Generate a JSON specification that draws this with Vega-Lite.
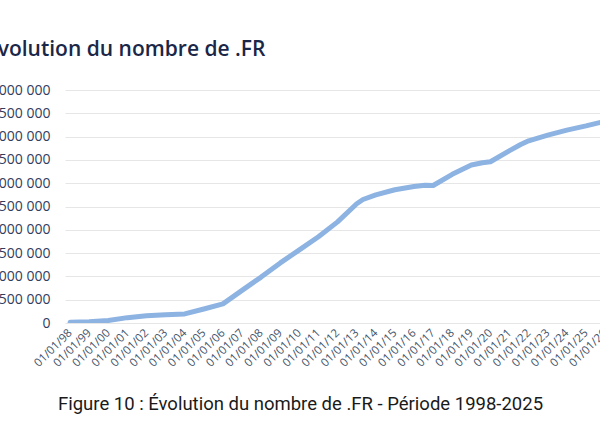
{
  "$schema": "https://vega.github.io/schema/vega-lite/v6.json",
  "autosize": {"type": "none"},
  "width": 548,
  "height": 233,
  "padding": {"left": 65, "top": 90, "right": -13, "bottom": 110},
  "background": "white",
  "title": {
    "text": "Évolution du nombre de .FR",
    "anchor": "start",
    "frame": "group",
    "dx": -79,
    "dy": 20,
    "offset": 26,
    "baseline": "alphabetic",
    "font": "Open Sans",
    "fontSize": 21,
    "fontWeight": 600,
    "color": "#1a2748"
  },
  "config": {
    "view": {"stroke": null},
    "locale": {"number": {"decimal": ",", "thousands": "\u00a0", "grouping": [3], "currency": ["", "\u00a0€"]}}
  },
  "data": {
    "values": [
      {"date": "1998-01-01", "count": 15000},
      {"date": "1999-01-01", "count": 25000},
      {"date": "2000-01-01", "count": 55000},
      {"date": "2001-01-01", "count": 115000},
      {"date": "2002-01-01", "count": 155000},
      {"date": "2003-01-01", "count": 178000},
      {"date": "2004-01-01", "count": 195000},
      {"date": "2005-01-01", "count": 300000},
      {"date": "2006-01-01", "count": 410000},
      {"date": "2007-01-01", "count": 700000},
      {"date": "2008-01-01", "count": 985000},
      {"date": "2009-01-01", "count": 1290000},
      {"date": "2010-01-01", "count": 1570000},
      {"date": "2011-01-01", "count": 1850000},
      {"date": "2012-01-01", "count": 2170000},
      {"date": "2013-01-01", "count": 2560000},
      {"date": "2013-05-01", "count": 2650000},
      {"date": "2014-01-01", "count": 2750000},
      {"date": "2015-01-01", "count": 2860000},
      {"date": "2016-01-01", "count": 2930000},
      {"date": "2016-08-01", "count": 2955000},
      {"date": "2017-01-01", "count": 2950000},
      {"date": "2018-01-01", "count": 3190000},
      {"date": "2019-01-01", "count": 3390000},
      {"date": "2019-08-01", "count": 3440000},
      {"date": "2020-01-01", "count": 3460000},
      {"date": "2021-01-01", "count": 3700000},
      {"date": "2021-08-01", "count": 3830000},
      {"date": "2022-01-01", "count": 3910000},
      {"date": "2023-01-01", "count": 4030000},
      {"date": "2024-01-01", "count": 4140000},
      {"date": "2025-01-01", "count": 4230000},
      {"date": "2026-01-01", "count": 4330000}
    ]
  },
  "mark": {"type": "line", "color": "#8db3e2", "strokeWidth": 5, "strokeJoin": "round", "strokeCap": "round", "clip": true},
  "encoding": {
    "x": {
      "field": "date",
      "type": "temporal",
      "scale": {
        "type": "utc",
        "domain": [
          {"year": 1997, "month": 9, "date": 26, "utc": true},
          {"year": 2026, "month": 6, "date": 1, "utc": true}
        ]
      },
      "axis": {
        "labelExpr": "utcFormat(datum.value, '%d/%m/%y')",
        "tickCount": {"interval": "year", "step": 1},
        "labelAngle": -45,
        "labelAlign": "right",
        "labelBaseline": "middle",
        "labelPadding": 8,
        "labelOverlap": false,
        "labelFlush": false,
        "labelBound": false,
        "labelFont": "Open Sans",
        "labelFontSize": 11.5,
        "labelColor": "#44546a",
        "domain": false,
        "ticks": false,
        "grid": false,
        "title": "Figure 10 : Évolution du nombre de .FR - Période 1998-2025",
        "titleX": 235,
        "titleY": 86,
        "titleAlign": "center",
        "titleBaseline": "alphabetic",
        "titleFont": "Roboto",
        "titleFontSize": 18.5,
        "titleFontWeight": "normal",
        "titleColor": "#1a1a1a"
      }
    },
    "y": {
      "field": "count",
      "type": "quantitative",
      "scale": {"domain": [0, 5000000], "nice": false},
      "axis": {
        "values": [0, 500000, 1000000, 1500000, 2000000, 2500000, 3000000, 3500000, 4000000, 4500000, 5000000],
        "format": ",d",
        "labelFont": "Open Sans",
        "labelFontSize": 14,
        "labelColor": "#2f3d5f",
        "labelPadding": 15,
        "domain": false,
        "ticks": false,
        "grid": true,
        "gridColor": "#e6e6e6",
        "gridWidth": 1,
        "title": null
      }
    }
  }
}
